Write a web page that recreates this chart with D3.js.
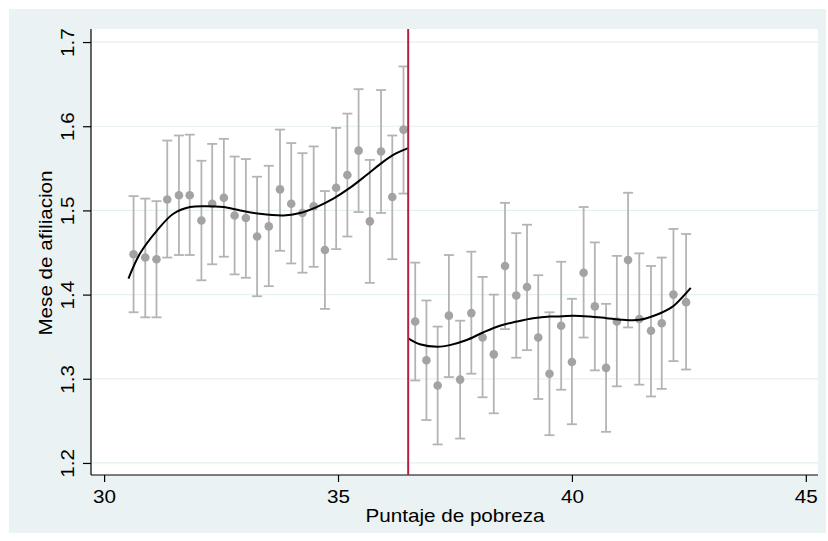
<!DOCTYPE html>
<html>
<head>
<meta charset="utf-8">
<script src="https://cdn.jsdelivr.net/npm/d3@7"></script>
<style>
  body { margin: 0; background: #fff; }
  svg { display: block; font-family: "Liberation Sans", Arial, sans-serif; }
  .axis text { font-size: 17.5px; fill: #000; }
  .axis path, .axis line { stroke: #000; stroke-width: 1.2; }
  .grid line { stroke: #e6eff1; stroke-width: 1.2; }
  .ebar { stroke: #b4b4b4; stroke-width: 1.8; fill: none; }
  .dot { fill: #a3a3a3; }
  .fit { stroke: #000; stroke-width: 2; fill: none; }
  .title { font-size: 17.5px; fill: #000; }
</style>
</head>
<body>
<div id="chart"></div>
<script>
// binned means with confidence intervals, left of cutoff
const leftX = [30.63, 30.88, 31.12, 31.35, 31.60, 31.83, 32.08, 32.31, 32.56, 32.79, 33.03, 33.27, 33.52,
    33.76, 34.00, 34.24, 34.48, 34.72, 34.96, 35.20, 35.44, 35.68, 35.92, 36.16, 36.40];
const leftMean = [1.448, 1.444, 1.442, 1.513, 1.518, 1.518, 1.488, 1.508, 1.515, 1.494, 1.491, 1.469, 1.481,
    1.525, 1.508, 1.497, 1.505, 1.453, 1.527, 1.542, 1.571, 1.487, 1.570, 1.516, 1.596];
const leftLo = [1.379, 1.373, 1.373, 1.444, 1.447, 1.447, 1.417, 1.436, 1.445, 1.424, 1.420, 1.398, 1.410,
    1.452, 1.437, 1.426, 1.433, 1.383, 1.454, 1.469, 1.498, 1.414, 1.497, 1.442, 1.520];
const leftHi = [1.517, 1.514, 1.511, 1.583, 1.589, 1.590, 1.559, 1.579, 1.585, 1.564, 1.561, 1.540, 1.553,
    1.596, 1.580, 1.568, 1.576, 1.523, 1.598, 1.615, 1.644, 1.560, 1.643, 1.589, 1.671];

// right of cutoff
const rightX = [36.65, 36.89, 37.13, 37.37, 37.61, 37.85, 38.09, 38.33, 38.57, 38.81, 39.04, 39.28, 39.52,
    39.77, 40.00, 40.25, 40.49, 40.73, 40.96, 41.20, 41.44, 41.69, 41.92, 42.17, 42.44];
const rightMean = [1.368, 1.322, 1.292, 1.375, 1.299, 1.378, 1.349, 1.329, 1.434, 1.399, 1.409, 1.349, 1.306,
    1.363, 1.320, 1.426, 1.386, 1.313, 1.368, 1.441, 1.371, 1.357, 1.366, 1.400, 1.391];
const rightLo = [1.298, 1.251, 1.222, 1.302, 1.229, 1.306, 1.278, 1.259, 1.359, 1.325, 1.334, 1.276, 1.233,
    1.287, 1.246, 1.349, 1.310, 1.237, 1.291, 1.361, 1.293, 1.279, 1.288, 1.321, 1.311];
const rightHi = [1.438, 1.393, 1.362, 1.447, 1.369, 1.451, 1.421, 1.400, 1.509, 1.473, 1.483, 1.423, 1.379,
    1.439, 1.395, 1.504, 1.462, 1.389, 1.446, 1.521, 1.449, 1.434, 1.444, 1.478, 1.472];

// fitted polynomial
const fitLeftX = [30.52, 30.77, 31.13, 31.48, 31.84, 32.19, 32.55, 32.91, 33.33, 33.83, 34.19, 34.54, 34.90,
    35.26, 35.61, 35.97, 36.25, 36.50];
const fitLeftY = [1.419, 1.449, 1.476, 1.496, 1.504, 1.505, 1.504, 1.500, 1.496, 1.494, 1.497, 1.504, 1.514,
    1.527, 1.542, 1.558, 1.568, 1.574];
const fitRightX = [36.50, 36.75, 37.13, 37.39, 37.75, 38.10, 38.46, 38.82, 39.17, 39.53, 39.67, 40.03, 40.38,
    40.74, 41.09, 41.45, 41.81, 42.16, 42.38, 42.54];
const fitRightY = [1.348, 1.341, 1.338, 1.340, 1.346, 1.355, 1.363, 1.368, 1.372, 1.374, 1.374, 1.375, 1.374,
    1.372, 1.370, 1.370, 1.376, 1.386, 1.398, 1.408];

const cutoff = 36.5;
const xTicks = [30, 35, 40, 45];
const yTicks = [1.2, 1.3, 1.4, 1.5, 1.6, 1.7];
const xTitle = "Puntaje de pobreza";
const yTitle = "Mese de afiliacion";

const W = 828, H = 541;
const margin = {t: 29, l: 91, r: 10, b: 66};
const width = W - margin.l - margin.r;
const height = H - margin.t - margin.b;
const stretch = 1.18; // the source font renders wider than Arial

const svg = d3.select("#chart").append("svg")
    .attr("width", W)
    .attr("height", H);

// outer panel
svg.append("rect")
    .attr("x", 9).attr("y", 9)
    .attr("width", W - 11).attr("height", H - 17)
    .attr("fill", "#eaf2f3");

const g = svg.append("g")
    .attr("transform", `translate(${margin.l}, ${margin.t})`);

g.append("rect")
    .attr("width", width).attr("height", height)
    .attr("fill", "#fff");

const scale_x = d3.scaleLinear().domain([29.72, 45.26]).range([0, width]);
const scale_y = d3.scaleLinear().domain([1.1857, 1.7155]).range([height, 0]);

// grid
g.append("g").attr("class", "grid")
    .selectAll("line")
    .data(yTicks)
    .join("line")
    .attr("x1", 0).attr("x2", width)
    .attr("y1", d => scale_y(d)).attr("y2", d => scale_y(d));

// axes
const axis_x = d3.axisBottom(scale_x).tickValues(xTicks).tickSize(7).tickPadding(9)
    .tickFormat(d3.format("d")).tickSizeOuter(0);
const axis_y = d3.axisLeft(scale_y).tickValues(yTicks).tickSize(8).tickPadding(0)
    .tickFormat(d3.format(".1f")).tickSizeOuter(0);

const gx = g.append("g").attr("class", "axis axis-x")
    .attr("transform", `translate(0, ${height})`)
    .call(axis_x);
gx.select(".domain").attr("d", `M0,0H${width}`);
gx.selectAll(".tick text").attr("transform", `scale(${stretch},1)`);

const gy = g.append("g").attr("class", "axis axis-y").call(axis_y);
gy.select(".domain").attr("d", `M0,0V${height}`);
gy.selectAll(".tick text")
    .attr("transform", `translate(-17,0) rotate(-90) scale(${stretch},1)`)
    .attr("x", 0).attr("dy", 0)
    .attr("text-anchor", "middle");

// error bars + dots
function bins(xs, m, lo, hi) {
    return xs.map((x, i) => ({x: x, m: m[i], lo: lo[i], hi: hi[i]}));
}
const allBins = bins(leftX, leftMean, leftLo, leftHi).concat(bins(rightX, rightMean, rightLo, rightHi));

const eb = g.append("g").selectAll("g").data(allBins).join("g");
eb.append("line").attr("class", "ebar")
    .attr("x1", d => scale_x(d.x)).attr("x2", d => scale_x(d.x))
    .attr("y1", d => scale_y(d.lo)).attr("y2", d => scale_y(d.hi));
eb.append("line").attr("class", "ebar")
    .attr("x1", d => scale_x(d.x) - 5).attr("x2", d => scale_x(d.x) + 5)
    .attr("y1", d => scale_y(d.lo)).attr("y2", d => scale_y(d.lo));
eb.append("line").attr("class", "ebar")
    .attr("x1", d => scale_x(d.x) - 5).attr("x2", d => scale_x(d.x) + 5)
    .attr("y1", d => scale_y(d.hi)).attr("y2", d => scale_y(d.hi));

g.append("g").selectAll("circle").data(allBins).join("circle")
    .attr("class", "dot")
    .attr("cx", d => scale_x(d.x))
    .attr("cy", d => scale_y(d.m))
    .attr("r", 4.3);

// fitted lines
const line = d3.line()
    .x(d => scale_x(d[0]))
    .y(d => scale_y(d[1]))
    .curve(d3.curveCatmullRom);

g.append("path").attr("class", "fit")
    .attr("d", line(fitLeftX.map((x, i) => [x, fitLeftY[i]])));
g.append("path").attr("class", "fit")
    .attr("d", line(fitRightX.map((x, i) => [x, fitRightY[i]])));

// cutoff
g.append("line")
    .attr("x1", scale_x(cutoff)).attr("x2", scale_x(cutoff))
    .attr("y1", 0).attr("y2", height)
    .attr("stroke", "#b5213f").attr("stroke-width", 2);

// titles
svg.append("text")
    .attr("class", "title")
    .attr("transform", `translate(${margin.l + scale_x(37.5)}, 522) scale(${stretch},1)`)
    .attr("text-anchor", "middle")
    .text(xTitle);

svg.append("text")
    .attr("class", "title")
    .attr("transform", `translate(52, ${margin.t + height / 2 + 1}) rotate(-90) scale(${stretch},1)`)
    .attr("text-anchor", "middle")
    .text(yTitle);
</script>
</body>
</html>
